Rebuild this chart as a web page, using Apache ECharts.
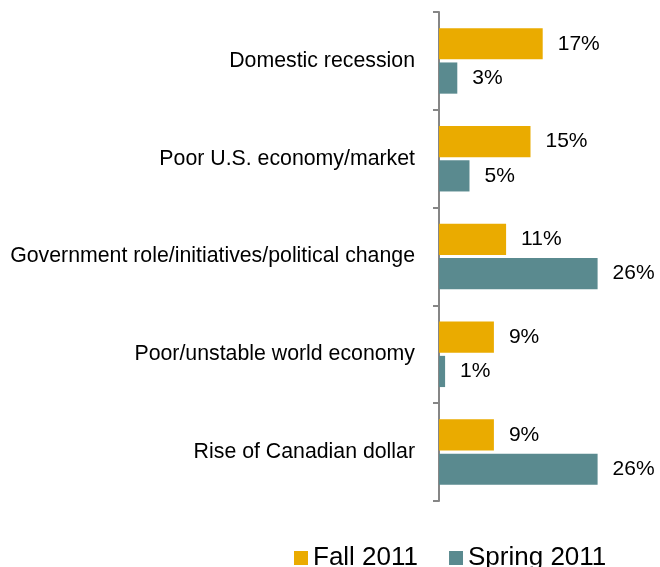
<!DOCTYPE html>
<html>
<head>
<meta charset="utf-8">
<script src="https://cdn.jsdelivr.net/npm/echarts@6/dist/echarts.min.js"></script>
<style>
  html, body { margin: 0; padding: 0; background: #fff; }
  #chart { width: 660px; height: 567px; }
</style>
</head>
<body>
<div id="chart"></div>
<script>
  // categories, top to bottom
  var categories = [
    'Domestic recession',
    'Poor U.S. economy/market',
    'Government role/initiatives/political change',
    'Poor/unstable world economy',
    'Rise of Canadian dollar'
  ];
  var fall2011 = [17, 15, 11, 9, 9];
  var spring2011 = [3, 5, 26, 1, 26];

  var chart = echarts.init(document.getElementById('chart'));
  var font = '"Liberation Sans", Arial, sans-serif';

  var option = {
    backgroundColor: '#fff',
    animation: false,
    textStyle: { fontFamily: font },
    legend: {
      left: 289,
      top: 540,
      itemWidth: 14,
      itemHeight: 14,
      itemGap: 31,
      icon: 'rect',
      textStyle: { fontSize: 26, color: '#000', fontFamily: font, padding: [0, 0, 0, 0] },
      data: ['Fall 2011', 'Spring 2011']
    },
    grid: { left: 439, right: 38, top: 12, bottom: 66 },
    xAxis: {
      type: 'value',
      min: 0,
      max: 30,
      axisLine: { show: false },
      axisTick: { show: false },
      axisLabel: { show: false },
      splitLine: { show: false }
    },
    yAxis: {
      type: 'category',
      inverse: true,
      data: categories,
      axisLine: { show: true, lineStyle: { color: '#868686', width: 2 } },
      axisTick: { show: true, length: 6, lineStyle: { color: '#868686', width: 2 } },
      axisLabel: { margin: 24, fontSize: 21.3, color: '#000', fontFamily: font }
    },
    series: [
      {
        name: 'Fall 2011',
        type: 'bar',
        data: fall2011,
        barGap: '10%',
        barCategoryGap: '33%',
        itemStyle: { color: '#EAAB00' },
        label: { show: true, position: 'right', distance: 15, formatter: '{c}%', fontSize: 21, color: '#000', fontFamily: font }
      },
      {
        name: 'Spring 2011',
        type: 'bar',
        data: spring2011,
        barGap: '10%',
        barCategoryGap: '33%',
        itemStyle: { color: '#5A8A8F' },
        label: { show: true, position: 'right', distance: 15, formatter: '{c}%', fontSize: 21, color: '#000', fontFamily: font }
      }
    ]
  };
  chart.setOption(option);
</script>
</body>
</html>
